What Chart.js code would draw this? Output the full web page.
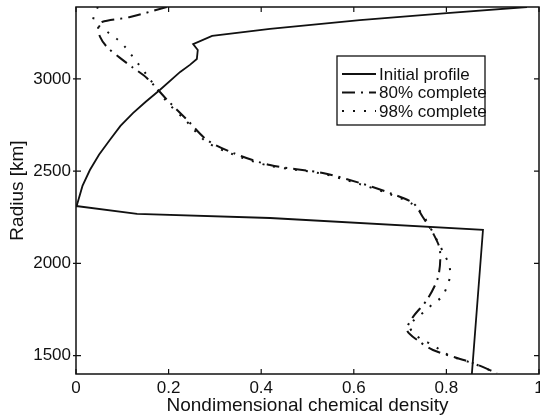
<!DOCTYPE html>
<html>
<head>
<meta charset="utf-8">
<script src="https://cdn.jsdelivr.net/npm/chart.js@4/dist/chart.umd.min.js"></script>
<style>
  html, body { margin: 0; padding: 0; background: #fff; overflow: hidden; }
  canvas { display: block; }
</style>
</head>
<body>
<canvas id="chart" width="550" height="417"></canvas>
<script>
// Initial profile (solid)
const initX = [0.974, 0.801, 0.613, 0.419, 0.294, 0.253, 0.263, 0.261, 0.246, 0.225, 0.181, 0.150, 0.123, 0.096, 0.073, 0.050, 0.030, 0.014, 0.002, 0.000, 0.132, 0.419, 0.879, 0.855];
const initY = [3390, 3357, 3319, 3271, 3233, 3189, 3157, 3108, 3076, 3038, 2940, 2875, 2815, 2745, 2669, 2590, 2506, 2420, 2316, 2311, 2268, 2246, 2181, 1400];

// 80% complete (dash-dot)
const p80X = [0.196, 0.117, 0.056, 0.048, 0.052, 0.067, 0.095, 0.121, 0.153, 0.197, 0.240, 0.283, 0.339, 0.419, 0.533, 0.613, 0.678, 0.728, 0.749, 0.771, 0.786, 0.782, 0.758, 0.728, 0.715, 0.737, 0.771, 0.823, 0.857, 0.909];
const p80Y = [3390, 3336, 3309, 3282, 3228, 3173, 3114, 3065, 3005, 2886, 2778, 2669, 2599, 2533, 2490, 2436, 2381, 2327, 2251, 2164, 2072, 1926, 1802, 1710, 1639, 1584, 1530, 1487, 1460, 1405];

// 98% complete (dotted)
const p98X = [0.047, 0.037, 0.052, 0.071, 0.091, 0.108, 0.123, 0.138, 0.153, 0.195, 0.238, 0.280, 0.336, 0.416, 0.530, 0.610, 0.675, 0.725, 0.749, 0.784, 0.795, 0.806, 0.808, 0.801, 0.790, 0.771, 0.754, 0.721, 0.728, 0.749, 0.771, 0.793, 0.814, 0.855, 0.909];
const p98Y = [3390, 3314, 3282, 3249, 3211, 3168, 3119, 3070, 3021, 2880, 2772, 2662, 2594, 2530, 2487, 2432, 2378, 2324, 2263, 2105, 2051, 1991, 1932, 1872, 1818, 1780, 1742, 1666, 1623, 1584, 1557, 1519, 1492, 1460, 1405];

const xTicks = [0, 0.2, 0.4, 0.6, 0.8, 1];
const yTicks = [1500, 2000, 2500, 3000];

const FONT = "'Liberation Sans', Arial, Helvetica, sans-serif";
const INK = '#111';

function toPoints(xs, ys) {
    return xs.map((x, i) => ({ x: x, y: ys[i] }));
}

// box around the plot with inward tick marks on all four sides
const framePlugin = {
    id: 'frame',
    afterDatasetsDraw(chart) {
        const ctx = chart.ctx;
        const a = chart.chartArea;
        const xs = chart.scales.x, ys = chart.scales.y;
        ctx.save();
        ctx.strokeStyle = INK;
        ctx.lineWidth = 1.5;
        ctx.setLineDash([]);
        ctx.strokeRect(a.left, a.top, a.right - a.left, a.bottom - a.top);
        ctx.lineWidth = 1.2;
        ctx.beginPath();
        xTicks.forEach(v => {
            const px = xs.getPixelForValue(v);
            ctx.moveTo(px, a.bottom); ctx.lineTo(px, a.bottom - 5);
            ctx.moveTo(px, a.top); ctx.lineTo(px, a.top + 5);
        });
        yTicks.forEach(v => {
            const py = ys.getPixelForValue(v);
            ctx.moveTo(a.left - 3, py); ctx.lineTo(a.left + 5, py);
            ctx.moveTo(a.right, py); ctx.lineTo(a.right - 5, py);
        });
        ctx.stroke();
        ctx.restore();
    }
};

// boxed legend inside the plot area, upper right
const legendPlugin = {
    id: 'boxLegend',
    afterDraw(chart) {
        const ctx = chart.ctx;
        const a = chart.chartArea;
        const bx = a.right - 202, by = a.top + 49, bw = 148, bh = 69;
        ctx.save();
        ctx.fillStyle = '#fff';
        ctx.fillRect(bx, by, bw, bh);
        ctx.strokeStyle = INK;
        ctx.lineWidth = 1.3;
        ctx.setLineDash([]);
        ctx.strokeRect(bx, by, bw, bh);
        ctx.font = '17px ' + FONT;
        ctx.textBaseline = 'middle';
        ctx.fillStyle = INK;
        chart.data.datasets.forEach((ds, i) => {
            const y = by + 18 + i * 18.5;
            ctx.beginPath();
            ctx.lineWidth = ds.borderWidth;
            ctx.setLineDash(ds.borderDash || []);
            ctx.moveTo(bx + 5, y);
            ctx.lineTo(bx + 39, y);
            ctx.stroke();
            ctx.setLineDash([]);
            ctx.fillText(ds.label, bx + 42, y + 1);
        });
        ctx.restore();
    }
};

new Chart(document.getElementById('chart').getContext('2d'), {
    type: 'scatter',
    data: {
        datasets: [
            {
                label: 'Initial profile',
                data: toPoints(initX, initY),
                showLine: true,
                borderColor: INK,
                borderWidth: 1.8,
                pointRadius: 0,
                tension: 0
            },
            {
                label: '80% complete',
                data: toPoints(p80X, p80Y),
                showLine: true,
                borderColor: INK,
                borderWidth: 2,
                borderDash: [13, 6, 2, 6],
                pointRadius: 0,
                tension: 0.3
            },
            {
                label: '98% complete',
                data: toPoints(p98X, p98Y),
                showLine: true,
                borderColor: INK,
                borderWidth: 2,
                borderDash: [2, 9],
                pointRadius: 0,
                tension: 0.3
            }
        ]
    },
    options: {
        responsive: false,
        animation: false,
        layout: { padding: { top: 7, right: 11, left: 0, bottom: 0 } },
        plugins: {
            legend: { display: false },
            tooltip: { enabled: false }
        },
        scales: {
            x: {
                type: 'linear',
                min: 0,
                max: 1,
                afterBuildTicks: s => { s.ticks = xTicks.map(v => ({ value: v })); },
                afterFit: s => { s.height = 43; s.paddingLeft = 0; s.paddingRight = 0; },
                grid: { display: false, drawTicks: false },
                border: { display: false },
                ticks: {
                    color: INK,
                    padding: 4,
                    font: { family: FONT, size: 17 },
                    callback: v => String(v)
                },
                title: {
                    display: true,
                    text: 'Nondimensional chemical density',
                    color: INK,
                    padding: { top: 0, bottom: 0 },
                    font: { family: FONT, size: 19 }
                }
            },
            y: {
                type: 'linear',
                min: 1400,
                max: 3390,
                afterBuildTicks: s => { s.ticks = yTicks.map(v => ({ value: v })); },
                afterFit: s => { s.width = 76; s.paddingTop = 0; s.paddingBottom = 0; },
                grid: { display: false, drawTicks: false },
                border: { display: false },
                ticks: {
                    color: INK,
                    padding: 5,
                    font: { family: FONT, size: 17 },
                    callback: v => String(v)
                },
                title: {
                    display: true,
                    text: 'Radius [km]',
                    color: INK,
                    padding: { top: 6, bottom: 0 },
                    font: { family: FONT, size: 19 }
                }
            }
        }
    },
    plugins: [framePlugin, legendPlugin]
});
</script>
</body>
</html>
